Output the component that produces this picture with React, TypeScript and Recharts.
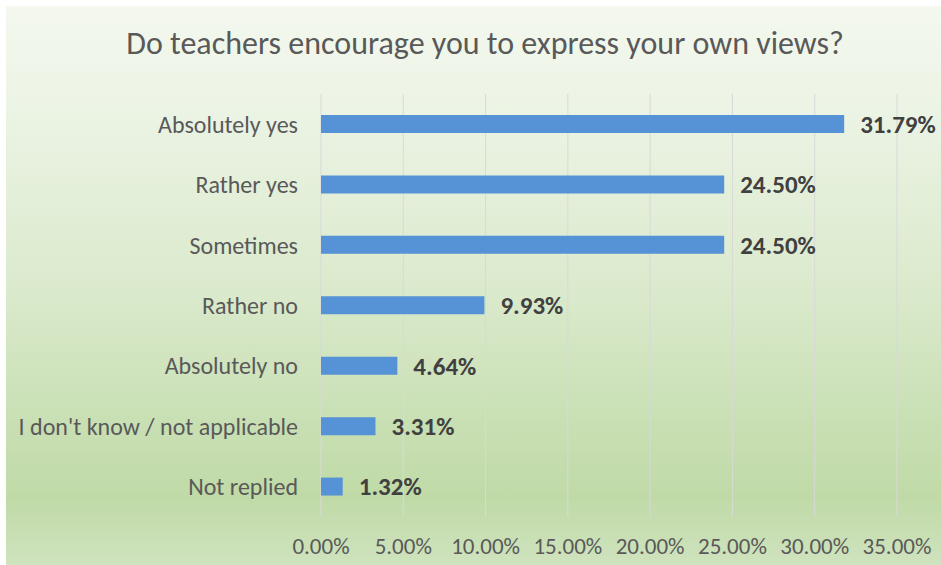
import { BarChart, Bar, XAxis, YAxis, CartesianGrid, LabelList } from "recharts";

const CATEGORIES = [
  "Absolutely yes",
  "Rather yes",
  "Sometimes",
  "Rather no",
  "Absolutely no",
  "I don't know / not applicable",
  "Not replied",
];
const SHARES = [31.79, 24.5, 24.5, 9.93, 4.64, 3.31, 1.32];
const X_TICKS = [0, 5, 10, 15, 20, 25, 30, 35];

const TITLE = "Do teachers encourage you to express your own views?";
const FONT = "Carlito, 'Open Sans', sans-serif";

const data = CATEGORIES.map((name, i) => ({ name, value: SHARES[i] }));

const pct = (v: number) => `${Number(v).toFixed(2)}%`;

export default function App() {
  return (
    <div style={{ position: "absolute", left: 0, top: 0, width: 941, height: 565, background: "#fff", fontFamily: FONT }}>
      <div
        style={{
          position: "absolute", left: 6, top: 6, width: 935, height: 559,
          background: "linear-gradient(to bottom, #f4f8ef 0%, #ecf4e5 18%, #dbeacd 50%, #c8dfb3 75%, #c0daa7 88%, #cfe3be 100%)",
        }}
      />
      <div
        style={{
          position: "absolute", left: 6, top: 24, width: 958, textAlign: "center",
          fontSize: 32, color: "#595959", whiteSpace: "nowrap", lineHeight: "40px",
        }}
      >
        {TITLE}
      </div>
      <div style={{ position: "absolute", left: 0, top: 0 }}>
        <BarChart
          width={941}
          height={565}
          data={data}
          layout="vertical"
          margin={{ top: 94, right: 44, bottom: 0, left: 0 }}
        >
          <CartesianGrid horizontal={false} stroke="#d9d9d9" strokeWidth={1} />
          <XAxis
            type="number"
            domain={[0, 35]}
            ticks={X_TICKS}
            tickFormatter={pct}
            axisLine={false}
            tickLine={false}
            tickSize={0}
            tickMargin={21}
            height={48}
            tick={{ fill: "#595959", fontSize: 23, fontFamily: FONT }}
          />
          <YAxis
            type="category"
            dataKey="name"
            width={321}
            axisLine={false}
            tickLine={false}
            tickSize={0}
            tickMargin={23}
            tick={{ fill: "#595959", fontSize: 24, fontFamily: FONT }}
          />
          <Bar dataKey="value" fill="#5592d6" barSize={18} isAnimationActive={false}>
            <LabelList
              dataKey="value"
              position="right"
              offset={16}
              formatter={(v: number) => pct(v)}
              style={{ fill: "#404040", fontSize: 25, fontWeight: 700, fontFamily: FONT }}
            />
          </Bar>
        </BarChart>
      </div>
    </div>
  );
}
